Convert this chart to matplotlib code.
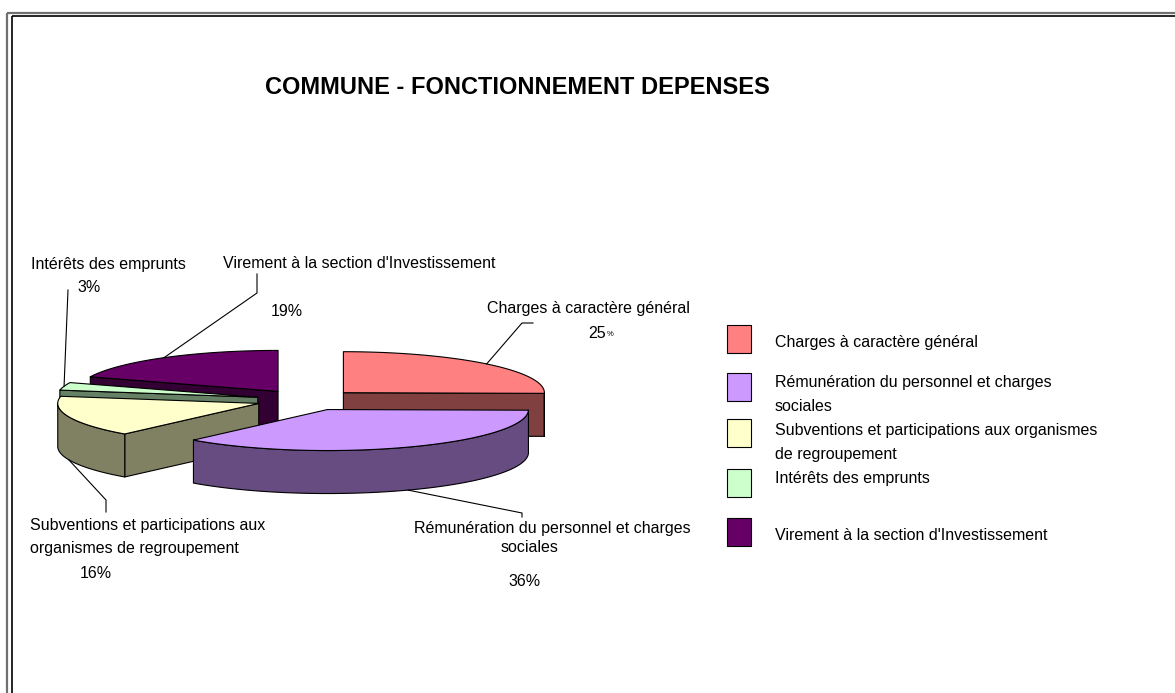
import numpy as np
import matplotlib.pyplot as plt
from matplotlib.patches import Polygon, Rectangle

plt.rcParams['font.family'] = ['Liberation Sans', 'DejaVu Sans']

# data
title = "COMMUNE - FONCTIONNEMENT DEPENSES"
categories = ["Charges à caractère général",
              "Rémunération du personnel et charges sociales",
              "Subventions et participations aux organismes de regroupement",
              "Intérêts des emprunts",
              "Virement à la section d'Investissement"]
values = [25, 36, 16, 3, 19]
pie_labels = ["Charges à caractère général",
              "Rémunération du personnel et charges\nsociales",
              "Subventions et participations aux\norganismes de regroupement",
              "Intérêts des emprunts",
              "Virement à la section d'Investissement"]
legend_labels = ["Charges à caractère général",
                 "Rémunération du personnel et charges\nsociales",
                 "Subventions et participations aux organismes\nde regroupement",
                 "Intérêts des emprunts",
                 "Virement à la section d'Investissement"]
top_colors = ['#FF8080', '#CC99FF', '#FFFFCC', '#CCFFCC', '#660066']
side_colors = ['#804040', '#664C80', '#808062', '#668066', '#330033']

# layout (pixels)
cx, cy = 307, 400        # pie centre
rx, ry = 201, 41         # top ellipse radii
depth = 43               # pie thickness
explode = 0.254

fig = plt.figure(figsize=(11.75, 6.93), dpi=100)
ax = fig.add_axes([0, 0, 1, 1])
ax.set_xlim(0, 1175)
ax.set_ylim(693, 0)
ax.axis('off')

# double frame
ax.add_patch(Rectangle((6.5, 12.5), 1250, 750, fill=False, ec='#707070', lw=1.6))
ax.add_patch(Rectangle((11.5, 15.5), 1250, 750, fill=False, ec='black', lw=1.2))

ax.text(517, 87, title, ha='center', va='center', fontsize=17, fontweight='bold')


def proj(ox, oy, a, r=1.0, z=0.0):
    a = np.radians(a)
    return cx + rx * (ox + r * np.cos(a)), cy - ry * (oy + r * np.sin(a)) + z * depth


total = sum(values)
fracs = [v / total for v in values]
starts = 90 - 360 * np.concatenate([[0], np.cumsum(fracs)[:-1]])
slices = []
for i, f in enumerate(fracs):
    a_hi = starts[i]
    a_lo = a_hi - 360 * f
    mid = (a_lo + a_hi) / 2
    ox, oy = explode * np.cos(np.radians(mid)), explode * np.sin(np.radians(mid))
    slices.append((i, a_lo, a_hi, mid, ox, oy))

anchors = {}
for i, a_lo, a_hi, mid, ox, oy in sorted(slices, key=lambda s: -np.sin(np.radians(s[3]))):
    ec = dict(ec='black', lw=0.8, joinstyle='round')
    # radial faces
    for a, vis in ((a_lo, np.cos(np.radians(a_lo)) > 1e-6),
                   (a_hi, np.cos(np.radians(a_hi)) < -1e-6)):
        if vis:
            pts = [proj(ox, oy, a, 0, 0), proj(ox, oy, a, 1, 0),
                   proj(ox, oy, a, 1, 1), proj(ox, oy, a, 0, 1)]
            ax.add_patch(Polygon(pts, closed=True, fc=side_colors[i], **ec))
    # outer rim (front half only)
    for k in (-1, 0, 1):
        lo = max(a_lo, 180 + 360 * k)
        hi = min(a_hi, 360 + 360 * k)
        if hi > lo:
            t = np.linspace(lo, hi, 120)
            topx, topy = proj(ox, oy, t, 1, 0)
            botx, boty = proj(ox, oy, t, 1, 1)
            pts = np.column_stack([np.r_[topx, botx[::-1]], np.r_[topy, boty[::-1]]])
            ax.add_patch(Polygon(pts, closed=True, fc=side_colors[i], **ec))
    # top face
    t = np.linspace(a_lo, a_hi, 150)
    arcx, arcy = proj(ox, oy, t, 1, 0)
    c = proj(ox, oy, 0, 0, 0)
    pts = np.column_stack([np.r_[c[0], arcx], np.r_[c[1], arcy]])
    ax.add_patch(Polygon(pts, closed=True, fc=top_colors[i], **ec))
    front = np.sin(np.radians(mid)) < 0
    anchors[i] = proj(ox, oy, mid, 1, 1 if front else 0)

# labels and leader lines
lab_fs = 11.5
label_pos = [(588, 309, 'center'), (552, 528, 'center'), (30, 537, 'left'),
             (108, 265, 'center'), (359, 264, 'center')]
pct_pos = [(606, 333), (525, 581), (96, 574), (89, 287), (287, 311)]
leader_pts = [[(533, 323), (522, 323)], [(522, 517), (522, 513)],
              [(106, 512), (106, 500)], [(68, 290), (68, 290)],
              [(257, 274), (257, 293)]]

for i in range(len(values)):
    x, y, ha = label_pos[i]
    if i == 1:
        first, second = pie_labels[i].split('\n')
        ax.text(x, y, first, ha='center', va='center', fontsize=lab_fs)
        ax.text(530, y + 20, second, ha='center', va='center', fontsize=lab_fs)
    else:
        ax.text(x, y, pie_labels[i], ha=ha, va='center', fontsize=lab_fs,
                linespacing=1.7)
    px, py = pct_pos[i]
    if i == 0:
        ax.text(px, py, f"{values[i]}", ha='right', va='center', fontsize=lab_fs)
        ax.text(px + 1, py + 1, "%", ha='left', va='center', fontsize=5.5)
    else:
        ax.text(px, py, f"{values[i]}%", ha='center', va='center', fontsize=lab_fs)
    lp = leader_pts[i] + [anchors[i]]
    ax.plot([p[0] for p in lp], [p[1] for p in lp], color='black', lw=0.8)

# legend
leg_y = [338.5, 387, 432.5, 482.5, 531.5]
leg_text_y = [343, 394.5, 442.5, 478, 536]
for i in range(len(values)):
    ax.add_patch(Rectangle((727, leg_y[i] - 14), 24, 28, fc=top_colors[i],
                           ec='black', lw=0.8))
    ax.text(775, leg_text_y[i], legend_labels[i], ha='left', va='center',
            fontsize=lab_fs, linespacing=1.7)

fig.savefig('out.png', dpi=100)
